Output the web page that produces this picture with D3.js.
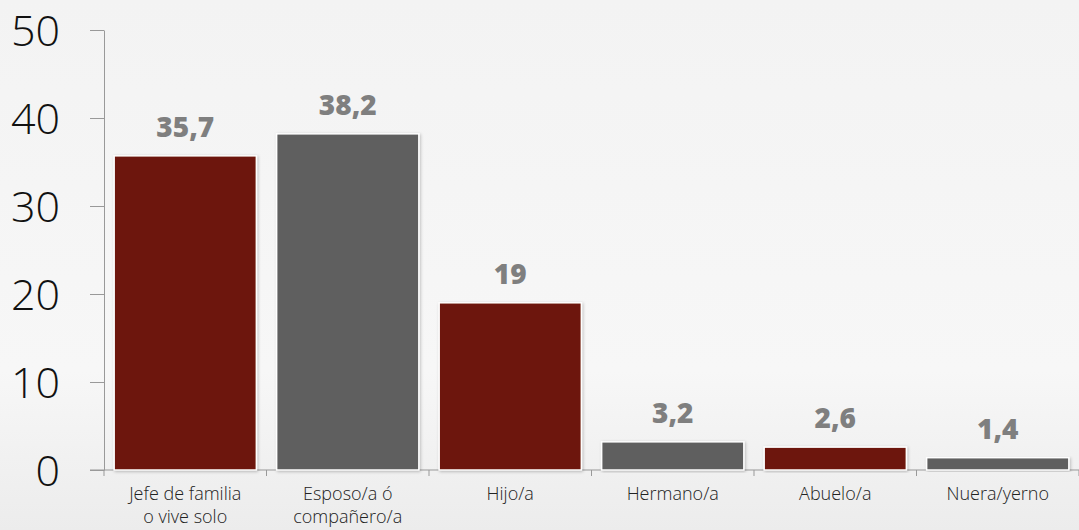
<!DOCTYPE html>
<html>
<head>
<meta charset="utf-8">
<script src="https://cdn.jsdelivr.net/npm/d3@7"></script>
<style>
  body { margin: 0; background: #f4f4f4; }
  svg { display: block; }
</style>
</head>
<body>
<svg id="chart" width="1079" height="530"></svg>
<script>
const categories = [
  ["Jefe de familia", "o vive solo"],
  ["Esposo/a ó", "compañero/a"],
  ["Hijo/a"],
  ["Hermano/a"],
  ["Abuelo/a"],
  ["Nuera/yerno"]
];
const values = [35.7, 38.2, 19, 3.2, 2.6, 1.4];
const valueLabels = ["35,7", "38,2", "19", "3,2", "2,6", "1,4"];
const barColors = ["#6d1908", "#5e5e5e", "#6d1908", "#5e5e5e", "#6d1908", "#5e5e5e"];
const yTicks = [0, 10, 20, 30, 40, 50];

const svg = d3.select("#chart");
const W = 1079, H = 530;
const margin = { left: 104, right: 0, top: 30, bottom: 60 };

// faded background
const defs = svg.append("defs");
const grad = defs.append("linearGradient").attr("id", "bg").attr("x1", 0).attr("y1", 0).attr("x2", 0).attr("y2", 1);
grad.append("stop").attr("offset", "0%").attr("stop-color", "#f3f3f3");
grad.append("stop").attr("offset", "70%").attr("stop-color", "#f7f7f7");
grad.append("stop").attr("offset", "100%").attr("stop-color", "#ececec");
svg.append("rect").attr("width", W).attr("height", H).attr("fill", "url(#bg)");

const shadow = defs.append("filter").attr("id", "shadow").attr("x", "-10%").attr("y", "-10%").attr("width", "120%").attr("height", "120%");
shadow.append("feDropShadow").attr("dx", 1).attr("dy", 1).attr("stdDeviation", 1.5).attr("flood-color", "#000").attr("flood-opacity", 0.25);

const x = d3.scaleBand()
  .domain(d3.range(categories.length))
  .range([margin.left, W - margin.right])
  .paddingInner(0.125)
  .paddingOuter(0.0625);

const y = d3.scaleLinear().domain([0, 50]).range([H - margin.bottom, margin.top]);

// y axis
const yAxis = svg.append("g")
  .attr("transform", `translate(${margin.left},0)`)
  .call(d3.axisLeft(y).tickValues(yTicks).tickSize(14).tickSizeOuter(0).tickPadding(30));
yAxis.select(".domain").attr("stroke", "#999");
yAxis.selectAll(".tick line").attr("stroke", "#999");
yAxis.selectAll(".tick text")
  .attr("fill", "#111")
  .style("font-family", "'Open Sans', 'Noto Sans', sans-serif")
  .style("font-weight", 300)
  .style("font-size", "43px")
  .attr("dy", "0.36em");

// x axis line with ticks at band boundaries
const xBase = y(0);
svg.append("line")
  .attr("x1", margin.left - 14).attr("x2", W)
  .attr("y1", xBase).attr("y2", xBase)
  .attr("stroke", "#999");
const step = x.step();
const bounds = d3.range(categories.length + 1).map(i => margin.left + i * step);
svg.selectAll(".xtick")
  .data(bounds)
  .join("line")
  .attr("x1", d => d).attr("x2", d => d)
  .attr("y1", xBase).attr("y2", xBase + 6)
  .attr("stroke", "#999");

// bars
svg.selectAll(".bar")
  .data(values)
  .join("rect")
  .attr("class", "bar")
  .attr("x", (d, i) => x(i))
  .attr("y", d => y(d))
  .attr("width", x.bandwidth())
  .attr("height", d => y(0) - y(d))
  .attr("fill", (d, i) => barColors[i])
  .attr("stroke", "#fff")
  .attr("stroke-width", 1.5)
  .attr("filter", "url(#shadow)");

// value labels
svg.selectAll(".vlabel")
  .data(values)
  .join("text")
  .attr("class", "vlabel")
  .attr("x", (d, i) => x(i) + x.bandwidth() / 2)
  .attr("y", d => y(d) - 19)
  .attr("text-anchor", "middle")
  .attr("fill", "#7f7f7f")
  .style("font-family", "'Open Sans', 'Noto Sans', sans-serif")
  .style("font-weight", 800)
  .style("font-size", "28px")
  .text((d, i) => valueLabels[i]);

// category labels
const cat = svg.selectAll(".clabel")
  .data(categories)
  .join("text")
  .attr("class", "clabel")
  .attr("text-anchor", "middle")
  .attr("fill", "#222")
  .style("font-family", "'Open Sans', 'Noto Sans', sans-serif")
  .style("font-weight", 300)
  .style("font-size", "18px");
cat.each(function(lines, i) {
  d3.select(this).selectAll("tspan")
    .data(lines)
    .join("tspan")
    .attr("x", x(i) + x.bandwidth() / 2)
    .attr("y", (l, j) => 500 + j * 23)
    .text(l => l);
});
</script>
</body>
</html>
